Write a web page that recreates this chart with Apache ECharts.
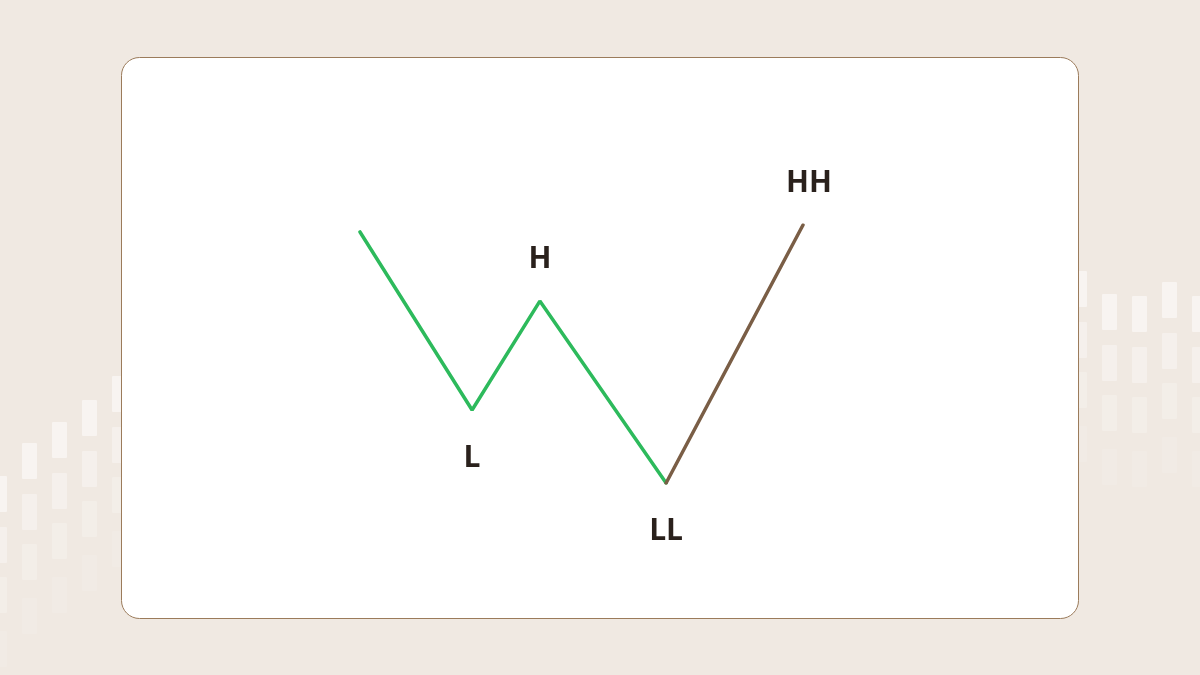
<!DOCTYPE html>
<html>
<head>
<meta charset="utf-8">
<script src="https://cdn.jsdelivr.net/npm/echarts@6/dist/echarts.min.js"></script>
<style>
  html, body { margin: 0; padding: 0; background: #f0e9e2; }
  #chart { width: 1200px; height: 675px; }
</style>
</head>
<body>
<div id="chart"></div>
<script>
// swing points (time, price)
var swingX = [0, 25.3, 40.6, 69.1, 100];
var swingY = [197.3, 128.3, 170.5, 100, 200];
var swingLabels = ['', 'L', 'H', 'LL', 'HH'];

// faint candle-like decoration at the edges
var decoCols = [-8, 22, 52, 82, 112, 1072, 1102, 1132, 1162, 1192];
var decoTops = [476, 443, 422, 400, 376, 271, 294, 296, 282, 296];
var decoRows = [0, 51, 101, 155];
var decoAlpha = [0.5, 0.34, 0.22, 0.1];

function point(i) {
  var high = swingLabels[i].indexOf('H') === 0;
  return {
    value: [swingX[i], swingY[i]],
    label: {
      show: swingLabels[i] !== '',
      formatter: swingLabels[i],
      position: high ? 'top' : 'bottom',
      distance: high ? 26 : 33,
      offset: swingLabels[i] === 'HH' ? [6, 0] : [0, 0]
    }
  };
}

var deco = [];
decoCols.forEach(function (x, c) {
  decoRows.forEach(function (dy, r) {
    deco.push({
      type: 'rect',
      z: 0,
      silent: true,
      shape: { x: x, y: decoTops[c] + dy, width: 15, height: 36, r: 1 },
      style: { fill: 'rgba(255,255,255,' + decoAlpha[r] + ')' }
    });
  });
});

var labelStyle = {
  color: '#2a211c',
  fontSize: 30,
  fontWeight: 'bold',
  fontFamily: 'Open Sans'
};

var chart = echarts.init(document.getElementById('chart'));
chart.setOption({
  backgroundColor: '#f0e9e2',
  animation: false,
  graphic: deco.concat([{
    type: 'rect',
    z: 1,
    silent: true,
    shape: { x: 121.5, y: 57.5, width: 957, height: 561, r: 18 },
    style: { fill: '#ffffff', stroke: '#9b7b5b', lineWidth: 1 }
  }]),
  grid: { left: 360, top: 225, width: 443, height: 258 },
  xAxis: { type: 'value', min: 0, max: 100, show: false },
  yAxis: { type: 'value', min: 100, max: 200, show: false },
  series: [
    {
      type: 'line',
      z: 5,
      data: [0, 1, 2, 3].map(point),
      symbol: 'circle',
      symbolSize: 1,
      showSymbol: true,
      itemStyle: { color: 'rgba(0,0,0,0)', borderWidth: 0 },
      lineStyle: { color: '#2dba5c', width: 3.5, cap: 'round' },
      label: labelStyle
    },
    {
      type: 'line',
      z: 6,
      data: [3, 4].map(function (i) {
        var p = point(i);
        if (i === 3) p.label.show = false;
        return p;
      }),
      symbol: 'circle',
      symbolSize: 1,
      showSymbol: true,
      itemStyle: { color: 'rgba(0,0,0,0)', borderWidth: 0 },
      lineStyle: { color: '#7a5e46', width: 3.5, cap: 'round' },
      label: labelStyle
    }
  ]
});
</script>
</body>
</html>
